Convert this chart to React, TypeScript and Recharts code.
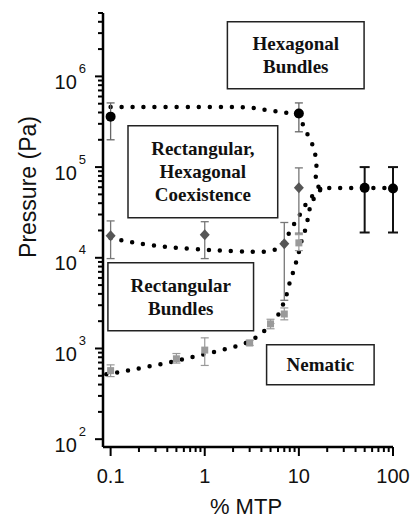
import { ComposedChart, XAxis, YAxis, Line, Scatter, ErrorBar, ReferenceArea } from "recharts";

// measured points: % MTP vs pressure (Pa), with error bar bounds
const hexX = [0.1, 10, 50, 100];
const hexP = [3.6e5, 3.9e5, 5.9e4, 5.8e4];
const hexLow = [2.0e5, 2.45e5, 1.9e4, 1.9e4];
const hexHigh = [5.1e5, 5.1e5, 1.0e5, 1.0e5];

const coexX = [0.1, 1, 7, 10];
const coexP = [1.75e4, 1.8e4, 1.43e4, 5.9e4];
const coexLow = [9.8e3, 9.8e3, 3.4e3, 1.87e4];
const coexHigh = [2.55e4, 2.5e4, 2.45e4, 9.8e4];

const rectX = [0.1, 0.5, 1, 3, 5, 7, 10];
const rectP = [570, 770, 960, 1150, 1870, 2400, 1.46e4];
const rectLow = [490, 690, 650, 1080, 1650, 2070, 1.2e4];
const rectHigh = [660, 880, 1310, 1230, 2100, 2800, 1.8e4];

// phase boundaries (dotted)
const upperX = [0.1, 1, 3, 4.2, 5.9, 7.5, 10, 11, 12.4, 14.1, 15.1, 15.5, 15.1, 14.9, 17, 20, 30, 50, 100];
const upperP = [4.6e5, 4.6e5, 4.6e5, 4.3e5, 4.1e5, 3.95e5, 3.85e5, 2.93e5, 2.27e5, 1.77e5, 1.33e5, 1.03e5, 7.8e4, 6.3e4, 5.9e4, 5.9e4, 5.9e4, 5.9e4, 5.9e4];

const middleX = [0.1, 0.16, 0.28, 0.49, 1.07, 1.9, 3.3, 5.4, 6.9, 7.6, 8.6, 10, 11.3, 13.4, 15.9, 18];
const middleP = [1.65e4, 1.5e4, 1.36e4, 1.29e4, 1.22e4, 1.19e4, 1.16e4, 1.16e4, 1.43e4, 1.75e4, 2.25e4, 2.83e4, 3.65e4, 4.6e4, 5.6e4, 5.9e4];

const lowerX = [0.09, 0.15, 0.25, 0.43, 0.71, 1.2, 2.0, 3.0, 4.25, 5.1, 6.1, 6.7, 7.4, 7.8, 8.6, 9.3, 10, 10.5, 11.6, 12.4, 12.8, 14.1, 15.9, 18];
const lowerP = [520, 567, 632, 700, 803, 902, 1035, 1160, 1540, 1820, 2350, 2950, 3800, 5000, 6650, 8800, 1.13e4, 1.5e4, 1.93e4, 2.56e4, 3.38e4, 4.36e4, 5.35e4, 5.9e4];

const xMajor = [0.1, 1, 10, 100];
const yMajor = [1e2, 1e3, 1e4, 1e5, 1e6];
const minorSteps = [2, 3, 4, 5, 6, 7, 8, 9];

// phase regions: [x1, x2, y1, y2, lines]
const regions: [number, number, number, number, string[]][] = [
  [1.74, 49.3, 7.3e5, 4.0e6, ["Hexagonal", "Bundles"]],
  [0.153, 5.96, 2.76e4, 2.86e5, ["Rectangular,", "Hexagonal", "Coexistence"]],
  [0.0936, 3.3, 1.57e3, 8.8e3, ["Rectangular", "Bundles"]],
  [4.54, 63, 397, 1.1e3, ["Nematic"]],
];

const xTicks = [...xMajor, ...xMajor.slice(0, -1).flatMap((m) => minorSteps.map((s) => s * m))];
const yTicks = [...yMajor, ...yMajor.flatMap((m) => minorSteps.map((s) => s * m))].filter((v) => v <= 5e6);

const withErr = (xs: number[], ys: number[], lo: number[], hi: number[]) =>
  xs.map((x, i) => ({ x, y: ys[i], err: [ys[i] - lo[i], hi[i] - ys[i]] }));
const curve = (xs: number[], ys: number[]) => xs.map((x, i) => ({ x, y: ys[i] }));

const hexData = withErr(hexX, hexP, hexLow, hexHigh);
const coexData = withErr(coexX, coexP, coexLow, coexHigh);
const rectData = withErr(rectX, rectP, rectLow, rectHigh);

const SANS = "'Liberation Sans', Arial, Helvetica, sans-serif";
const SERIF = "'Liberation Serif', 'Times New Roman', serif";

const YTick = ({ x, y, payload }: any) => {
  const v = payload.value;
  const major = yMajor.includes(v);
  return (
    <g>
      <line x1={x - (major ? 8 : 5)} x2={x} y1={y} y2={y} stroke="#000" strokeWidth={2} />
      {major && (
        <text x={x - 17} y={y + 12.6} textAnchor="end" fontSize={20} fontFamily={SANS} fill="#111">
          10
          <tspan dx={2} dy={-16} fontSize={13}>
            {Math.round(Math.log10(v))}
          </tspan>
        </text>
      )}
    </g>
  );
};

const XTick = ({ x, y, payload }: any) => {
  const v = payload.value;
  const major = xMajor.includes(v);
  return (
    <g>
      <line x1={x} x2={x} y1={y} y2={y + (major ? 9 : 5)} stroke="#000" strokeWidth={2} />
      {major && (
        <text x={x} y={y + 36} textAnchor="middle" fontSize={20} fontFamily={SANS} fill="#111">
          {String(v)}
        </text>
      )}
    </g>
  );
};

const boxLabel = (lines: string[]) => (props: any) => {
  const vb = props.viewBox;
  const cx = vb.x + vb.width / 2;
  const cy = vb.y + vb.height / 2;
  return (
    <text textAnchor="middle" fontFamily={SERIF} fontWeight="bold" fontSize={19} fill="#111">
      {lines.map((t, i) => (
        <tspan key={i} x={cx} y={cy + (i - (lines.length - 1) / 2) * 23 + 6.5}>
          {t}
        </tspan>
      ))}
    </text>
  );
};

const circle = (p: any) => <circle cx={p.cx} cy={p.cy} r={5} fill="#000" />;
const diamond = (p: any) => (
  <polygon
    points={`${p.cx},${p.cy - 5.5} ${p.cx + 5},${p.cy} ${p.cx},${p.cy + 5.5} ${p.cx - 5},${p.cy}`}
    fill="#555"
  />
);
const square = (p: any) => <rect x={p.cx - 3.5} y={p.cy - 3.5} width={7} height={7} fill="#9a9a9a" />;

const dotted = {
  stroke: "#000",
  strokeWidth: 4.5,
  strokeLinecap: "round" as const,
  strokeDasharray: "0 11",
  dot: false,
  activeDot: false,
  isAnimationActive: false,
  type: "basis" as const,
};

export default function App() {
  return (
    <div style={{ position: "absolute", left: 0, top: 0, width: 411, height: 518, background: "#fff" }}>
      <ComposedChart width={411} height={518} margin={{ top: 13, right: 18, bottom: 0, left: 0 }}>
        <XAxis
          type="number"
          dataKey="x"
          scale="log"
          domain={[0.083, 100]}
          ticks={xTicks}
          interval={0}
          tick={<XTick />}
          tickLine={false}
          tickSize={0}
          tickMargin={0}
          height={71}
          axisLine={{ stroke: "#000", strokeWidth: 2.5 }}
          label={{
            content: () => (
              <text x={246} y={514} textAnchor="middle" fontSize={22} fontFamily={SANS} fill="#111">
                % MTP
              </text>
            ),
          }}
        />
        <YAxis
          type="number"
          dataKey="y"
          scale="log"
          domain={[82, 5e6]}
          ticks={yTicks}
          interval={0}
          tick={<YTick />}
          tickLine={false}
          tickSize={0}
          tickMargin={0}
          width={103}
          axisLine={{ stroke: "#000", strokeWidth: 2.5 }}
          label={{
            content: () => (
              <text
                transform="translate(36,187) rotate(-90)"
                textAnchor="middle"
                fontSize={23}
                fontFamily={SANS}
                fill="#111"
              >
                Pressure (Pa)
              </text>
            ),
          }}
        />
        {regions.map(([x1, x2, y1, y2, lines], i) => (
          <ReferenceArea
            key={i}
            x1={x1}
            x2={x2}
            y1={y1}
            y2={y2}
            fill="#fff"
            fillOpacity={1}
            stroke="#222"
            strokeWidth={1.5}
            label={boxLabel(lines)}
          />
        ))}
        <Line data={curve(upperX, upperP)} dataKey="y" {...dotted} />
        <Line data={curve(middleX, middleP)} dataKey="y" {...dotted} />
        <Line data={curve(lowerX, lowerP)} dataKey="y" {...dotted} />
        <Scatter data={rectData} dataKey="y" shape={square} isAnimationActive={false}>
          <ErrorBar dataKey="err" direction="y" width={4} stroke="#999" strokeWidth={1.2} />
        </Scatter>
        <Scatter data={coexData} dataKey="y" shape={diamond} isAnimationActive={false}>
          <ErrorBar dataKey="err" direction="y" width={4} stroke="#777" strokeWidth={1.3} />
        </Scatter>
        <Scatter data={hexData.filter((d) => d.x < 20)} dataKey="y" shape={circle} isAnimationActive={false}>
          <ErrorBar dataKey="err" direction="y" width={4} stroke="#666" strokeWidth={1.3} />
        </Scatter>
        <Scatter data={hexData.filter((d) => d.x >= 20)} dataKey="y" shape={circle} isAnimationActive={false}>
          <ErrorBar dataKey="err" direction="y" width={5} stroke="#111" strokeWidth={2} />
        </Scatter>
      </ComposedChart>
    </div>
  );
}
